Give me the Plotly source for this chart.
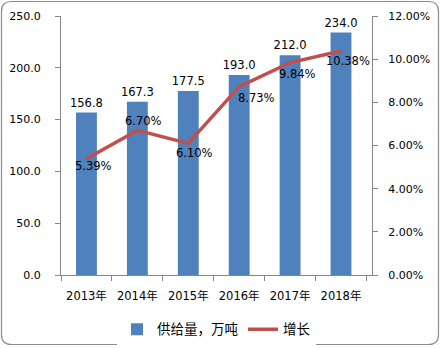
import plotly.graph_objects as go

years = ["2013年", "2014年", "2015年", "2016年", "2017年", "2018年"]
supply = [156.8, 167.3, 177.5, 193.0, 212.0, 234.0]
growth = [5.39, 6.70, 6.10, 8.73, 9.84, 10.38]

# label offsets (px) for the growth labels relative to each point
label_dx = [7, 6, 6, 17, 7, 7]
label_dy = [-7, 9, -10, -11, -11, -10]

W, H = 441, 348
ML, MR, MT, MB = 61, 69, 16, 73
PW, PH = W - ML - MR, H - MT - MB

FONT = "DejaVu Sans, Noto Sans CJK SC, sans-serif"
AXIS = "#868686"

fig = go.Figure()
fig.add_trace(go.Bar(
    x=years, y=supply, name="供给量，万吨",
    marker=dict(color="#4F81BD", line=dict(width=0)),
    texttemplate="%{y:.1f}", textposition="outside", constraintext="none",
    textfont=dict(size=11.5, color="black", family=FONT),
    cliponaxis=False,
))
fig.add_trace(go.Scatter(
    x=years, y=growth, name="增长", yaxis="y2", mode="lines",
    line=dict(color="#C0504D", width=3.5),
))

for x, g, dx, dy in zip(years, growth, label_dx, label_dy):
    fig.add_annotation(
        x=x, y=g, yref="y2", text=f"{g:.2f}%", showarrow=False,
        xshift=dx, yshift=dy, font=dict(size=11.5, color="black", family=FONT),
    )


def px(x):
    return (x - ML) / PW


def py(y):
    return (MT + PH - y) / PH


# rounded outer frame
x0, x1, y0, y1, r = 1.5, 438.5, 1.5, 344.5, 10
path = (
    f"M {px(x0 + r)},{py(y0)} L {px(x1 - r)},{py(y0)} "
    f"Q {px(x1)},{py(y0)} {px(x1)},{py(y0 + r)} "
    f"L {px(x1)},{py(y1 - r)} Q {px(x1)},{py(y1)} {px(x1 - r)},{py(y1)} "
    f"L {px(x0 + r)},{py(y1)} Q {px(x0)},{py(y1)} {px(x0)},{py(y1 - r)} "
    f"L {px(x0)},{py(y0 + r)} Q {px(x0)},{py(y0)} {px(x0 + r)},{py(y0)} Z"
)
fig.add_shape(type="path", path=path, xref="paper", yref="paper",
              line=dict(color="#8C8C8C", width=1.2), layer="below")

fig.update_layout(
    width=W, height=H,
    margin=dict(l=ML, r=MR, t=MT, b=MB, autoexpand=False),
    paper_bgcolor="white", plot_bgcolor="white",
    font=dict(family=FONT, size=11, color="black"),
    bargap=0.59,
    showlegend=True,
    legend=dict(orientation="h", x=0.5, xanchor="center", y=-0.15, yanchor="top",
                font=dict(size=13.5, family=FONT), itemwidth=30, tracegroupgap=0),
    xaxis=dict(
        type="category", showline=True, linecolor=AXIS, linewidth=1,
        ticks="outside", tickson="boundaries", ticklen=5, tickcolor=AXIS,
        tickfont=dict(size=11.5), tickangle=0, showgrid=False, zeroline=False,
        ticklabelstandoff=10,
    ),
    yaxis=dict(
        range=[0, 250], dtick=50, tickformat=".1f", showline=True, linecolor=AXIS,
        ticks="outside", ticklen=5, tickcolor=AXIS, showgrid=False, zeroline=False,
        ticklabelstandoff=12,
    ),
    yaxis2=dict(
        range=[0, 12], dtick=2, overlaying="y", side="right",
        tickformat=".2f", ticksuffix="%", showline=True, linecolor=AXIS,
        ticks="outside", ticklen=5, tickcolor=AXIS, showgrid=False, zeroline=False,
        ticklabelstandoff=8,
    ),
)

fig.write_html("out.html")
